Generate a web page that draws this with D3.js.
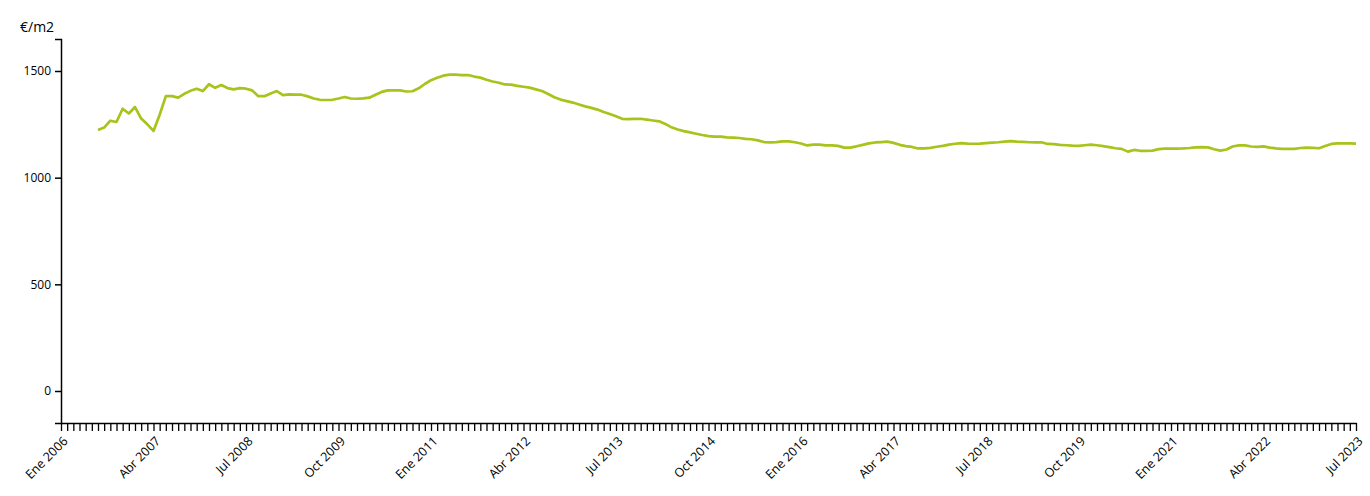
<!DOCTYPE html>
<html><head><meta charset="utf-8">
<script src="https://cdn.jsdelivr.net/npm/d3@7"></script>
<style>
body{margin:0;background:#fff}
svg{display:block}
text{font-family:"Open Sans",sans-serif;fill:#000}
</style>
</head><body>
<svg id="chart" width="1370" height="496"></svg>
<script>
// ---- data ----
const axisStart = "2006-01";
const axisEnd = "2023-07";
const seriesStart = "2006-07";
const values = [
1223,1235,1267,1261,1323,1301,
1331,1277,1250,1219,1295,1382,1382,1375,1393,1407,1417,1406,
1438,1421,1434,1420,1414,1420,1417,1409,1382,1382,1395,1406,
1387,1390,1389,1389,1381,1371,1365,1364,1365,1371,1378,1371,
1370,1372,1375,1389,1402,1409,1409,1409,1404,1405,1419,1439,
1457,1468,1478,1483,1483,1481,1481,1474,1469,1459,1451,1445,
1437,1436,1430,1426,1422,1414,1406,1392,1377,1366,1359,1352,
1343,1334,1327,1319,1308,1298,1288,1276,1274,1276,1276,1272,
1268,1264,1252,1236,1226,1218,1212,1206,1200,1195,1192,1192,
1189,1188,1186,1182,1180,1175,1167,1165,1167,1170,1170,1166,
1160,1151,1155,1155,1151,1151,1149,1141,1141,1147,1154,1161,
1165,1167,1169,1163,1154,1148,1144,1137,1137,1140,1145,1149,
1155,1159,1162,1160,1159,1160,1162,1164,1166,1169,1171,1169,
1168,1166,1165,1166,1158,1157,1154,1152,1150,1149,1152,1155,
1152,1148,1143,1138,1135,1122,1130,1126,1126,1127,1134,1136,
1136,1136,1137,1139,1142,1143,1142,1133,1127,1132,1146,1151,
1151,1146,1144,1147,1141,1137,1135,1135,1135,1139,1141,1140,
1138,1148,1158,1161,1161,1161,1160
];
const yTicks = [0, 500, 1000, 1500];
const yDomain = [-150, 1650];
const xTickLabels = ["Ene 2006","Abr 2007","Jul 2008","Oct 2009","Ene 2011","Abr 2012","Jul 2013",
  "Oct 2014","Ene 2016","Abr 2017","Jul 2018","Oct 2019","Ene 2021","Abr 2022","Jul 2023"];
const monthNames = ["Ene","Feb","Mar","Abr","May","Jun","Jul","Ago","Sep","Oct","Nov","Dic"];
const yLabel = "€/m2";
const lineColor = "#a6c41c";

// ---- layout ----
const svg = d3.select("#chart");
const plotLeft = 61, plotRight = 1356, plotTop = 39, plotBottom = 423;

const parse = d3.timeParse("%Y-%m");
const key = d3.timeFormat("%Y-%m");
const allMonths = d3.timeMonth.range(parse(axisStart), d3.timeMonth.offset(parse(axisEnd), 1));
const monthLabel = d => monthNames[d.getMonth()] + " " + d.getFullYear();

const x = d3.scalePoint().domain(allMonths.map(key)).range([plotLeft, plotRight]).padding(0);
const y = d3.scaleLinear().domain(yDomain).range([plotBottom, plotTop]);

const s0 = parse(seriesStart);
const data = values.map((v, i) => ({date: d3.timeMonth.offset(s0, i), value: v}));

// y axis
const gy = svg.append("g").attr("transform", `translate(${plotLeft},0)`)
  .call(d3.axisLeft(y).tickValues(yTicks).tickSize(6).tickSizeOuter(6).tickPadding(4).tickFormat(d3.format("d")));
gy.selectAll("path,line").attr("stroke", "#000").attr("stroke-width", 1.5);
gy.selectAll("text").attr("font-size", 12).style("font-family", '"Open Sans",sans-serif');

// x axis
const labelSet = new Set(xTickLabels);
const gx = svg.append("g").attr("transform", `translate(0,${plotBottom})`)
  .call(d3.axisBottom(x).tickSize(8).tickSizeOuter(0)
    .tickFormat(k => { const l = monthLabel(parse(k)); return labelSet.has(l) ? l : ""; }));
gx.select("path.domain").attr("stroke", "#000").attr("stroke-width", 1.5);
gx.selectAll("line").attr("stroke", "#000").attr("stroke-width", 1.3);
gx.selectAll("text")
  .attr("font-size", 12.5)
  .style("font-family", '"Open Sans",sans-serif')
  .attr("text-anchor", "end")
  .attr("y", 0).attr("dy", 0)
  .attr("transform", "translate(7,19) rotate(-45)");

// y label
svg.append("text").attr("x", 20).attr("y", 32).attr("font-size", 14).text(yLabel);

// line
const line = d3.line().x(d => x(key(d.date))).y(d => y(d.value));
svg.append("path").datum(data)
  .attr("fill", "none").attr("stroke", lineColor).attr("stroke-width", 2.7)
  .attr("stroke-linejoin", "round")
  .attr("d", line);
</script>
</body></html>
